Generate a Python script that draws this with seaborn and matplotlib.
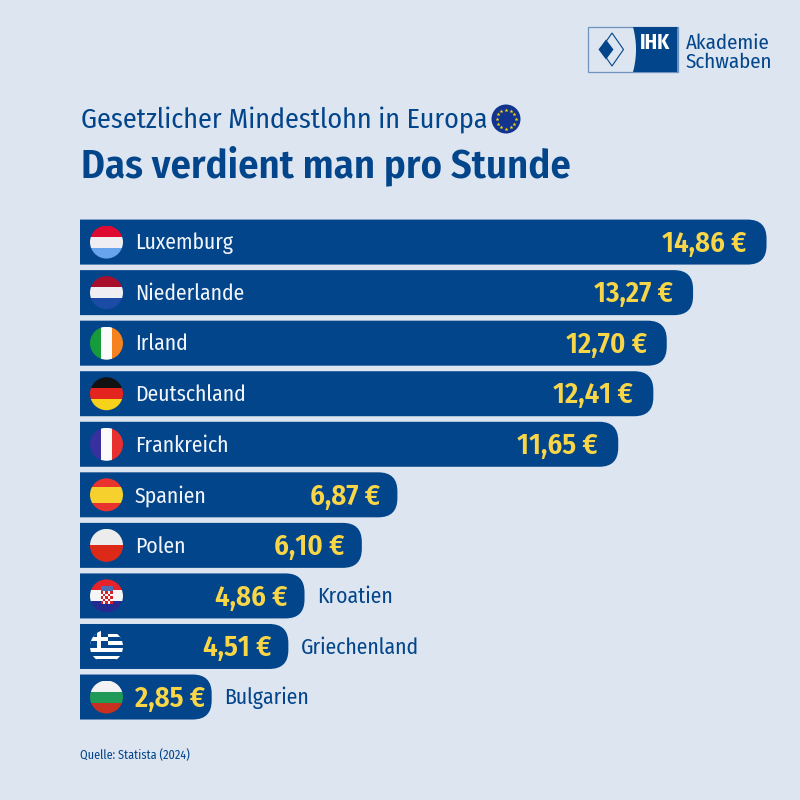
import matplotlib
matplotlib.use('Agg')
import matplotlib.pyplot as plt
import seaborn as sns
import numpy as np
from matplotlib.patches import Circle, Rectangle, PathPatch, Polygon
from matplotlib.path import Path

countries = ['Luxemburg', 'Niederlande', 'Irland', 'Deutschland', 'Frankreich',
             'Spanien', 'Polen', 'Kroatien', 'Griechenland', 'Bulgarien']
wages = [14.86, 13.27, 12.70, 12.41, 11.65, 6.87, 6.10, 4.86, 4.51, 2.85]

title_top = 'Gesetzlicher Mindestlohn in Europa'
title_main = 'Das verdient man pro Stunde'
source = 'Quelle: Statista (2024)'

BG = '#DCE5F0'
BLUE = '#03458A'
YELLOW = '#F8D648'
NARROW = ['Fira Sans Condensed', 'Lato', 'DejaVu Sans']

# (richtung, [(anteil, farbe), ...])
flags = {
    'Luxemburg': ('h', [(1, '#DE0A32'), (1, '#EFEFF3'), (1, '#68A3EE')]),
    'Niederlande': ('h', [(1, '#A80F2D'), (1, '#EFEFF3'), (1, '#1C4BA6')]),
    'Irland': ('v', [(1, '#169B3A'), (1, '#FBFBFB'), (1, '#F5821F')]),
    'Deutschland': ('h', [(1, '#121212'), (1, '#E3241F'), (1, '#F7D21A')]),
    'Frankreich': ('v', [(1, '#38309F'), (1, '#FBFBFB'), (1, '#E8302F')]),
    'Spanien': ('h', [(1, '#E8332F'), (2, '#F6D12E'), (1, '#E8332F')]),
    'Polen': ('h', [(1, '#ECECEC'), (1, '#DD2A18')]),
    'Kroatien': ('h', [(1, '#E8222A'), (1, '#F5F5F5'), (1, '#232A90')]),
    'Griechenland': ('h', [(1, BLUE), (1, '#FFFFFF'), (1, BLUE), (1, '#FFFFFF'), (1, BLUE),
                           (1, '#FFFFFF'), (1, BLUE), (1, '#FFFFFF'), (1, BLUE)]),
    'Bulgarien': ('h', [(1, '#F3F3F3'), (1, '#1F9A57'), (1, '#C8301F')]),
}

sns.set_theme(style='white')
plt.rcParams['font.family'] = NARROW

fig = plt.figure(figsize=(8, 8), dpi=100, facecolor=BG)

# Achse fuer die Balken: 46.2 px pro Euro, 50.55 px pro Zeile
ax = fig.add_axes([0.1, 1 - 722.3 / 800, 0.9, 505.5 / 800])
ov = fig.add_axes([0, 0, 1, 1], zorder=5)
ov.set_xlim(0, 800)
ov.set_ylim(800, 0)
ov.axis('off')
ov.patch.set_alpha(0)

sns.barplot(x=wages, y=countries, color=BLUE, saturation=1, width=45 / 50.55,
            orient='h', ax=ax)
ax.set_xlim(0, 720 / 46.2)
ax.set_ylim(9.5, -0.5)
ax.axis('off')
ax.patch.set_alpha(0)

# Balken rechts abrunden
rx, ry = 19 / 46.2, 19 / 50.55
for bar in list(ax.patches):
    x0, y0, w, h = bar.get_x(), bar.get_y(), bar.get_width(), bar.get_height()
    x1, y1 = x0 + w, y0 + h
    verts = [(x0, y0), (x1 - rx, y0), (x1, y0), (x1, y0 + ry), (x1, y1 - ry),
             (x1, y1), (x1 - rx, y1), (x0, y1), (x0, y0)]
    codes = [Path.MOVETO, Path.LINETO, Path.CURVE3, Path.CURVE3, Path.LINETO,
             Path.CURVE3, Path.CURVE3, Path.LINETO, Path.CLOSEPOLY]
    ax.add_patch(PathPatch(Path(verts, codes), fc=BLUE, ec='none'))
    bar.remove()


def to_px(x, y):
    px, py = ax.transData.transform((x, y))
    return px, 800 - py


def draw_flag(name, cx, cy, r=16.5):
    direction, stripes = flags[name]
    clip = Circle((cx, cy), r, transform=ov.transData, fc='none', ec='none')
    ov.add_patch(clip)
    total = sum(s[0] for s in stripes)
    pos = 0
    parts = []
    for share, color in stripes:
        size = 2 * r * share / total
        if direction == 'h':
            parts.append(Rectangle((cx - r, cy - r + pos), 2 * r, size + 0.3, fc=color, ec='none'))
        else:
            parts.append(Rectangle((cx - r + pos, cy - r), size + 0.3, 2 * r, fc=color, ec='none'))
        pos += size
    if name == 'Griechenland':
        c = 2 * r * 5 / 9
        parts.append(Rectangle((cx - r, cy - r), c, c, fc=BLUE, ec='none'))
        parts.append(Rectangle((cx - r, cy - r + c * 0.38), c, c * 0.24, fc='white', ec='none'))
        parts.append(Rectangle((cx - r + c * 0.38, cy - r), c * 0.24, c, fc='white', ec='none'))
    if name == 'Kroatien':
        for i in range(5):
            for j in range(5):
                col = '#D8202A' if (i + j) % 2 == 0 else 'white'
                parts.append(Rectangle((cx - 6 + j * 2.4, cy - 5 + i * 2.6), 2.4, 2.6, fc=col, ec='none'))
        parts.append(Rectangle((cx - 6, cy - 10), 12, 5, fc='#4A6FB5', ec='none'))
    for p in parts:
        ov.add_patch(p)
        p.set_clip_path(clip)


for i, (name, val) in enumerate(zip(countries, wages)):
    end_x, cy = to_px(val, i)
    draw_flag(name, 106.5, cy)
    label = f'{val:.2f} €'.replace('.', ',')
    gap = 20 if val > 10 else (17 if val > 3 else 7)
    ov.text(end_x - gap, cy + 1.5, label, color=YELLOW, fontsize=20.8,
            fontweight=600, ha='right', va='center')
    if val > 6:
        ov.text(135, cy + 1, name, color='#F2F6FB', fontsize=15.6, fontweight=400, ha='left', va='center')
    else:
        ov.text(end_x + 12.5, cy + 1, name, color=BLUE, fontsize=15.6, fontweight=400, ha='left', va='center')

# Titel
ov.text(81, 120, title_top, color=BLUE, fontsize=20.2, fontweight=400, ha='left', va='center')
ov.text(81, 166, title_main, color=BLUE, fontsize=29.3, fontweight=600, ha='left', va='center')
ov.text(80, 755, source, color=BLUE, fontsize=8.8, fontweight=400, ha='left', va='center')

# EU-Flagge
ov.add_patch(Circle((506, 119), 14.5, fc='#12348F', ec='none'))
ang = np.deg2rad(np.arange(0, 360, 30))
ov.scatter(506 + 9.5 * np.cos(ang), 119 + 9.5 * np.sin(ang), marker='*', s=9, color='#F5D90A', linewidths=0)

# Logo
ov.add_patch(Rectangle((587.5, 27), 90, 45, fc='none', ec='#6F93BD', lw=0.9))
t = np.linspace(-1, 1, 30)
curve = [(633 + 3 * (1 - tt ** 2), 49.5 + 22.5 * tt) for tt in t]
ov.add_patch(Polygon([(677.5, 27)] + curve + [(677.5, 72)], fc=BLUE, ec='none'))
ov.add_patch(Polygon([(612, 33), (623.5, 49.5), (612, 66), (600.5, 49.5)], fc='none', ec=BLUE, lw=0.8))
ov.add_patch(Polygon([(606, 39.5), (613.5, 49.5), (606, 59.5), (598.5, 49.5)], fc=BLUE, ec='none'))
ov.text(655, 43, 'IHK', color='white', fontsize=15, fontweight=700, ha='center', va='center')
ov.text(686, 43, 'Akademie', color=BLUE, fontsize=15, fontweight=400, ha='left', va='center')
ov.text(686, 62, 'Schwaben', color=BLUE, fontsize=15, fontweight=400, ha='left', va='center')

fig.savefig('out.png', dpi=100, facecolor=BG)
